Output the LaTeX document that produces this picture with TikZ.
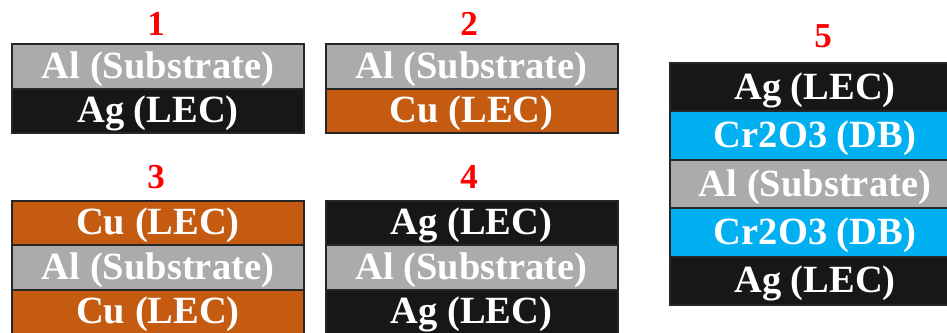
\documentclass[tikz,border=0pt]{standalone}
\usepackage{fontspec}
\setmainfont{Liberation Serif}
\definecolor{algray}{HTML}{ABABAB}
\definecolor{agblack}{HTML}{171717}
\definecolor{cucol}{HTML}{C55A11}
\definecolor{crcol}{HTML}{00B0F0}
\definecolor{edgecol}{HTML}{262626}
\definecolor{numred}{HTML}{FF0000}
\tikzset{
  layer/.style={draw=edgecol, line width=2pt, inner sep=0pt, anchor=north west,
    text=white, font=\fontsize{38.5}{40}\selectfont\bfseries,
    text height=24pt, text depth=0pt},
  w1/.style={minimum width=292pt},
  w5/.style={minimum width=290pt},
  h1/.style={minimum height=44.5pt},
  h5/.style={minimum height=48.4pt},
  alL/.style={layer, fill=algray},
  agL/.style={layer, fill=agblack},
  cuL/.style={layer, fill=cucol},
  crL/.style={layer, fill=crcol},
  numlabel/.style={text=numred, font=\fontsize{35}{36}\selectfont\bfseries,
    inner sep=0pt, text height=23.5pt, text depth=0pt}
}
\begin{document}
\begin{tikzpicture}[x=1pt, y=-1pt]
\useasboundingbox (0,0) rectangle (947,332);
% Stack 1
\node[numlabel] (n1) at (156,24) {1};
\node[alL, w1, h1] (s1a) at (11,43) {Al (Substrate)};
\node[agL, w1, h1] (s1b) at (11,87.5) {Ag (LEC)};
% Stack 2
\node[numlabel] (n2) at (469,24) {2};
\node[alL, w1, h1] (s2a) at (324.5,43) {Al (Substrate)};
\node[cuL, w1, h1] (s2b) at (324.5,87.5) {Cu (LEC)};
% Stack 3
\node[numlabel] (n3) at (156,176.5) {3};
\node[cuL, w1, h1] (s3a) at (11,199.5) {Cu (LEC)};
\node[alL, w1, h1] (s3b) at (11,244) {Al (Substrate)};
\node[cuL, w1, h1] (s3c) at (11,288.5) {Cu (LEC)};
% Stack 4
\node[numlabel] (n4) at (469,176.5) {4};
\node[agL, w1, h1] (s4a) at (324.5,199.5) {Ag (LEC)};
\node[alL, w1, h1] (s4b) at (324.5,244) {Al (Substrate)};
\node[agL, w1, h1] (s4c) at (324.5,288.5) {Ag (LEC)};
% Stack 5
\node[numlabel] (n5) at (823,36) {5};
\node[agL, w5, h5] (s5a) at (669,62) {Ag (LEC)};
\node[crL, w5, h5] (s5b) at (669,110.4) {Cr2O3 (DB)};
\node[alL, w5, h5] (s5c) at (669,158.8) {Al (Substrate)};
\node[crL, w5, h5] (s5d) at (669,207.2) {Cr2O3 (DB)};
\node[agL, w5, h5] (s5e) at (669,255.6) {Ag (LEC)};
\end{tikzpicture}
\end{document}
